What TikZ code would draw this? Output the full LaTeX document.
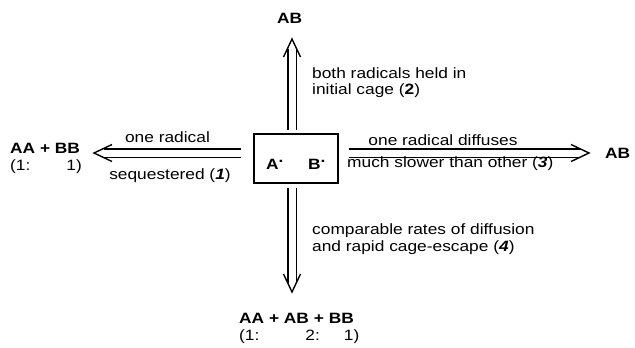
\documentclass[tikz,border=0pt]{standalone}
\usepackage{fontspec}
\setmainfont{Liberation Sans}[FakeStretch=1.16]
\usetikzlibrary{arrows.meta}

\begin{document}
\begin{tikzpicture}[x=1bp,y=-1bp,
    font=\fontsize{15}{17}\selectfont,
    dbl/.style={double,double distance=7bp,line width=1.4bp,shorten >=9.5bp},
    barb/.style={line width=1.4bp,line join=miter},
    lbl/.style={inner sep=0pt,anchor=base},
    note/.style={inner sep=0pt,anchor=north west,align=left},
    prod/.style={inner sep=0pt,anchor=base west,font=\fontsize{15}{17}\selectfont\bfseries}]
    \useasboundingbox (0,0) rectangle (635,347);
    % solvent cage with the radical pair
    \node[draw,line width=1.4bp,minimum width=84bp,minimum height=49bp,inner sep=0pt]
      (cage) at (296,158.5) {};
    \node[prod] (radA) at (266,169.5) {A\raisebox{7.5bp}{.}};
    \node[prod] (radB) at (308,169.5) {B\raisebox{7.5bp}{.}};
    % arrow tips
    \coordinate (upTip) at (292,39);
    \coordinate (downTip) at (292,292);
    \coordinate (leftTip) at (94,153);
    \coordinate (rightTip) at (589,153);
    \draw[dbl,shorten <=3bp] (cage.north -| upTip) -- (upTip);
    \draw[dbl,shorten <=4bp] (cage.south -| downTip) -- (downTip);
    \draw[dbl,shorten <=12bp] (cage.west |- leftTip) -- (leftTip);
    \draw[dbl,shorten <=10bp] (cage.east |- rightTip) -- (rightTip);
    \draw[barb] (upTip) ++(-8.5,18) -- (upTip) -- ++(8.5,18);
    \draw[barb] (downTip) ++(-8.5,-18) -- (downTip) -- ++(8.5,-18);
    \draw[barb] (leftTip) ++(18,-8.5) -- (leftTip) -- ++(18,8.5);
    \draw[barb] (rightTip) ++(-18,-8.5) -- (rightTip) -- ++(-18,8.5);
    % products
    \node[prod] (topAB) at (277,23) {AB};
    \node[prod] (rightAB) at (605,158) {AB};
    \node[prod] (leftProd) at (10,153.2) {AA + BB};
    \node[lbl,anchor=base west] (leftRatio) at (10,170.2) {(1:\hspace{36bp}1)};
    \node[prod] (downProd) at (239,323.7) {AA + AB + BB};
    \node[lbl,anchor=base west] (downRatio) at (239,340.7) {(1:\hspace{46bp}2:\hspace{24bp}1)};
    % conditions
    \node[lbl] (oneRad) at (167.5,142.5) {one radical};
    \node[lbl] (sequest) at (170,179.5) {sequestered (\textbf{\itshape 1})};
    \node[lbl] (diffuses) at (443,145) {one radical diffuses};
    \node[lbl,anchor=base west] (slower) at (347,167.5) {much slower than other (\textbf{\itshape 3})};
    \node[note] (held) at (312,67) {both radicals held in\\initial cage (\textbf{2})};
    \node[note] (rapid) at (312,223.5) {comparable rates of diffusion\\and rapid cage-escape (\textbf{\itshape 4})};
\end{tikzpicture}
\end{document}
